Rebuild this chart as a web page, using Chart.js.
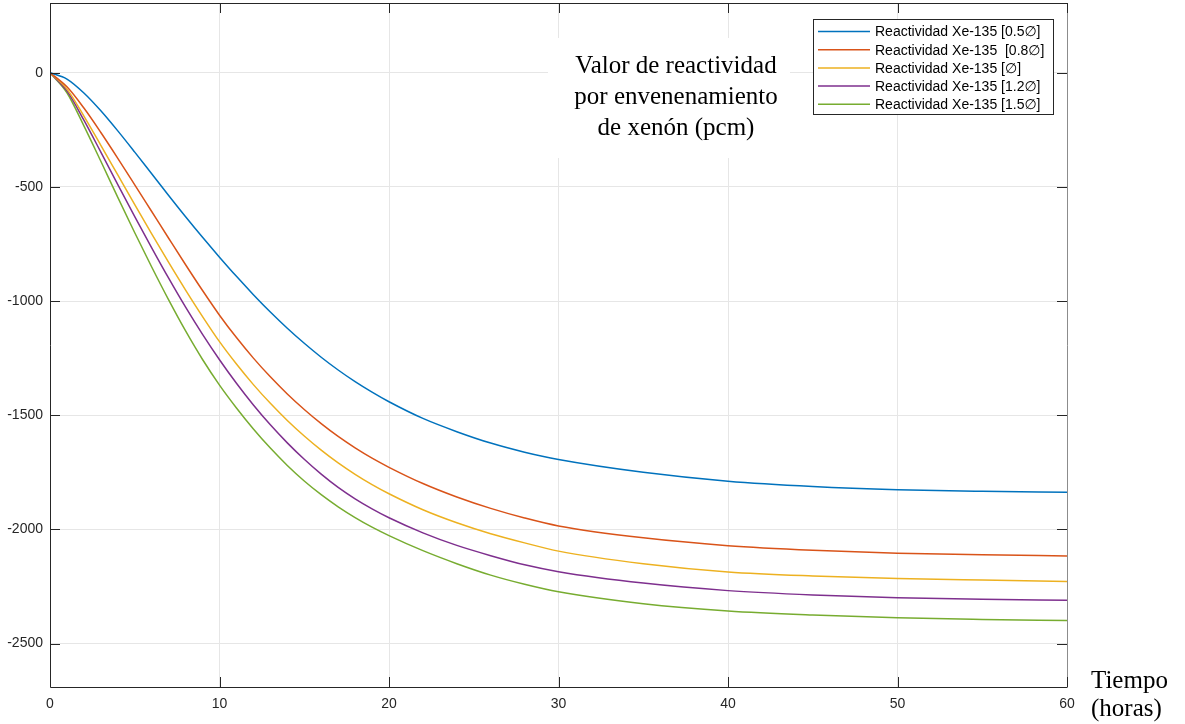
<!DOCTYPE html>
<html>
<head>
<meta charset="utf-8">
<script src="https://cdn.jsdelivr.net/npm/chart.js@4.4.1/dist/chart.umd.min.js"></script>
<style>
  html, body { margin: 0; padding: 0; background: #fff; }
  canvas { display: block; }
</style>
</head>
<body>
<canvas id="xenonChart" width="1185" height="724"></canvas>
<script>
// time after startup (hours)
const hours = [0, 1, 2, 3, 4, 5, 6, 7, 8, 9, 10, 11, 12, 13, 14, 15, 16, 17, 18, 19, 20,
  22, 24, 26, 28, 30, 35, 40, 45, 50, 55, 60];

// reactivity (pcm), one array per flux level
const rho05 = [0, -28, -89, -167, -255, -348, -443, -538, -631, -721, -808, -892, -972, -1048, -1119, -1185, -1246, -1302, -1353, -1399, -1441,
  -1514, -1572, -1622, -1662, -1694, -1750, -1789, -1812, -1826, -1833, -1837];
const rho08 = [0, -62, -155, -262, -375, -491, -608, -725, -841, -954, -1062, -1160, -1250, -1332, -1407, -1475, -1537, -1593, -1643, -1688, -1728,
  -1799, -1858, -1908, -1950, -1985, -2037, -2071, -2091, -2104, -2111, -2116];
const rho10 = [0, -72, -190, -318, -448, -578, -706, -831, -952, -1068, -1178, -1276, -1366, -1448, -1523, -1591, -1653, -1709, -1759, -1804, -1844,
  -1914, -1971, -2019, -2059, -2095, -2150, -2186, -2204, -2215, -2222, -2228];
const rho12 = [0, -80, -208, -348, -490, -630, -767, -900, -1027, -1146, -1257, -1360, -1455, -1542, -1621, -1693, -1758, -1816, -1866, -1910, -1949,
  -2015, -2070, -2115, -2155, -2185, -2235, -2268, -2287, -2299, -2306, -2310];
const rho15 = [0, -88, -233, -388, -546, -701, -851, -995, -1131, -1256, -1368, -1468, -1560, -1644, -1720, -1788, -1848, -1901, -1948, -1990, -2027,
  -2093, -2150, -2200, -2240, -2273, -2325, -2357, -2375, -2387, -2394, -2399];

const seriesLabels = [
  'Reactividad Xe-135 [0.5\u2205]',
  'Reactividad Xe-135  [0.8\u2205]',
  'Reactividad Xe-135 [\u2205]',
  'Reactividad Xe-135 [1.2\u2205]',
  'Reactividad Xe-135 [1.5\u2205]'
];
const seriesColors = ['#0072BD', '#D95319', '#EDB120', '#7E2F8E', '#77AC30'];

const xTickValues = [0, 10, 20, 30, 40, 50, 60];
const yTickValues = [0, -500, -1000, -1500, -2000, -2500];

const titleLines = ['Valor de reactividad', 'por envenenamiento', 'de xen\u00f3n (pcm)'];
const xAxisLines = ['Tiempo', '(horas)'];

const sans = '"Liberation Sans", Arial, "DejaVu Sans", sans-serif';
const serif = '"Liberation Serif", "Times New Roman", serif';
const axisColor = '#262626';

const allSeries = [rho05, rho08, rho10, rho12, rho15];

// white text box with the title, sits over the grid
const titleBox = {
  id: 'titleBox',
  beforeDatasetsDraw(chart) {
    const ctx = chart.ctx;
    ctx.save();
    ctx.fillStyle = '#fff';
    ctx.fillRect(548, 38, 242, 120);
    ctx.fillStyle = '#000';
    ctx.font = '25px ' + serif;
    ctx.textAlign = 'center';
    ctx.textBaseline = 'alphabetic';
    titleLines.forEach((line, i) => {
      ctx.fillText(line, 676, 73 + i * 31);
    });
    ctx.restore();
  }
};

// matlab style box with inward ticks
const axesFrame = {
  id: 'axesFrame',
  afterDatasetsDraw(chart) {
    const { ctx, chartArea: { left, right, top, bottom } } = chart;
    const xs = chart.scales.x;
    const ys = chart.scales.y;
    const tick = 10;
    ctx.save();
    ctx.lineWidth = 1;
    ctx.strokeStyle = axisColor;

    ctx.beginPath();
    ctx.moveTo(right + 0.5, top + 0.5);
    ctx.lineTo(left + 0.5, top + 0.5);
    ctx.lineTo(left + 0.5, bottom + 0.5);
    ctx.lineTo(right + 0.5, bottom + 0.5);
    ctx.stroke();

    ctx.strokeStyle = '#8c8c8c';
    ctx.beginPath();
    ctx.moveTo(right + 0.5, top + 0.5);
    ctx.lineTo(right + 0.5, bottom + 0.5);
    ctx.stroke();

    ctx.strokeStyle = axisColor;
    ctx.beginPath();
    yTickValues.forEach(v => {
      const y = Math.round(ys.getPixelForValue(v)) + 0.5;
      ctx.moveTo(left, y);
      ctx.lineTo(left + tick, y);
      ctx.moveTo(right - tick, y);
      ctx.lineTo(right, y);
    });
    xTickValues.forEach(v => {
      const x = Math.round(xs.getPixelForValue(v)) + 0.5;
      ctx.moveTo(x, bottom);
      ctx.lineTo(x, bottom - tick);
      ctx.moveTo(x, top);
      ctx.lineTo(x, top + tick);
    });
    ctx.stroke();
    ctx.restore();
  },
  afterDraw(chart) {
    const ctx = chart.ctx;
    ctx.save();
    ctx.fillStyle = '#000';
    ctx.font = '25px ' + serif;
    ctx.textAlign = 'left';
    ctx.fillText(xAxisLines[0], 1091, 688);
    ctx.fillText(xAxisLines[1], 1091, 716);
    ctx.restore();
  }
};

// legend box in the upper right corner
const boxLegend = {
  id: 'boxLegend',
  afterDraw(chart) {
    const ctx = chart.ctx;
    const x0 = 813, y0 = 19, w = 240, h = 95;
    ctx.save();
    ctx.fillStyle = '#fff';
    ctx.fillRect(x0, y0, w, h);
    ctx.strokeStyle = axisColor;
    ctx.lineWidth = 1;
    ctx.strokeRect(x0 + 0.5, y0 + 0.5, w, h);
    ctx.font = '14px ' + sans;
    ctx.textBaseline = 'middle';
    chart.data.datasets.forEach((ds, i) => {
      const y = 31.5 + i * 18.2;
      ctx.strokeStyle = ds.borderColor;
      ctx.lineWidth = 1.5;
      ctx.beginPath();
      ctx.moveTo(818, y);
      ctx.lineTo(870, y);
      ctx.stroke();
      ctx.fillStyle = '#000';
      ctx.fillText(ds.label, 875, y + 1);
    });
    ctx.restore();
  }
};

const ctx = document.getElementById('xenonChart').getContext('2d');
new Chart(ctx, {
  type: 'line',
  data: {
    datasets: allSeries.map((vals, i) => ({
      label: seriesLabels[i],
      data: hours.map((t, j) => ({ x: t, y: vals[j] })),
      borderColor: seriesColors[i],
      backgroundColor: seriesColors[i],
      borderWidth: 1.5,
      pointRadius: 0,
      fill: false,
      cubicInterpolationMode: 'monotone'
    }))
  },
  options: {
    responsive: false,
    devicePixelRatio: 1,
    animation: false,
    layout: { padding: { top: 3, right: 118, left: 0, bottom: 0 } },
    plugins: {
      legend: { display: false },
      tooltip: { enabled: false }
    },
    scales: {
      x: {
        type: 'linear',
        min: 0,
        max: 60,
        afterFit: scale => {
          scale.height = 37;
          scale.paddingLeft = 0;
          scale.paddingRight = 0;
        },
        afterBuildTicks: scale => { scale.ticks = xTickValues.map(v => ({ value: v })); },
        grid: { color: '#e6e6e6', lineWidth: 1, drawTicks: false },
        border: { display: false },
        ticks: {
          color: axisColor,
          font: { family: sans, size: 14 },
          padding: 9,
          maxRotation: 0,
          callback: v => String(v)
        }
      },
      y: {
        min: -2690,
        max: 305,
        afterFit: scale => {
          scale.width = 50;
          scale.paddingTop = 0;
          scale.paddingBottom = 0;
        },
        afterBuildTicks: scale => { scale.ticks = yTickValues.map(v => ({ value: v })); },
        grid: { color: '#e6e6e6', lineWidth: 1, drawTicks: false },
        border: { display: false },
        ticks: {
          color: axisColor,
          font: { family: sans, size: 14 },
          padding: 7,
          callback: v => String(v)
        }
      }
    }
  },
  plugins: [titleBox, axesFrame, boxLegend]
});
</script>
</body>
</html>
